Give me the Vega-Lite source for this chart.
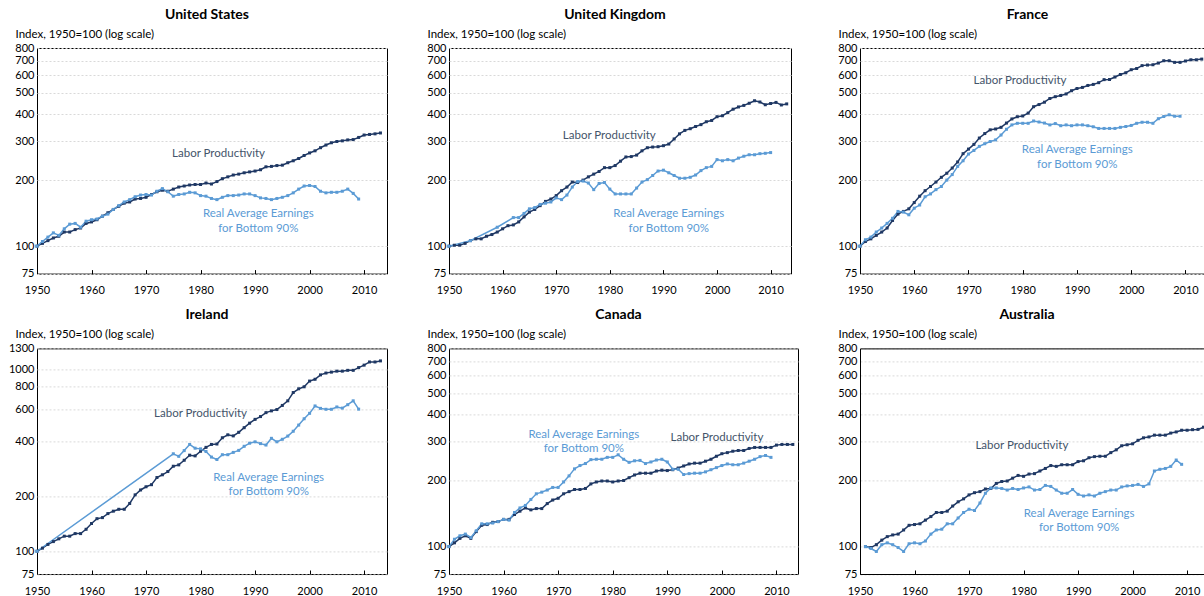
{
"$schema": "https://vega.github.io/schema/vega-lite/v6.json",
"autosize": {"type": "pad"},
"padding": {"left": 7, "top": 7, "right": 0, "bottom": 0},
"background": "white",
"config": {
  "font": "Lato",
  "view": {"stroke": "#000000", "strokeWidth": 1},
  "title": {"fontSize": 14, "fontWeight": "bold", "color": "#000000", "frame": "group", "anchor": "middle", "offset": 6, "dx": -5},
  "axis": {"labelFont": "Lato", "labelFontSize": 11, "labelColor": "#000000", "titleFont": "Lato", "titleFontSize": 11.5, "titleFontWeight": "normal", "titleColor": "#000000", "tickColor": "#000000", "domainColor": "#000000"},
  "axisY": {"ticks": false, "domain": false, "grid": true, "gridColor": "#D9D9D9", "gridDash": [2, 2], "labelPadding": 3, "labelOverlap": false, "format": "d", "titleAngle": 0, "titleAlign": "left", "titleBaseline": "middle", "titleX": -22, "titleY": -14},
  "axisX": {"grid": false, "domain": false, "tickSize": -4, "labelPadding": 15, "labelFlush": false, "labelOverlap": false, "format": "d"}
},
"datasets": {
"notes": [
{"c":"US","s":"LP","y":1983.3,"v":262,"t":"Labor Productivity"},
{"c":"US","s":"RE","y":1990.6,"v":139.5,"t":"Real Average Earnings\nfor Bottom 90%"},
{"c":"UK","s":"LP","y":1979.9,"v":318,"t":"Labor Productivity"},
{"c":"UK","s":"RE","y":1991.0,"v":140,"t":"Real Average Earnings\nfor Bottom 90%"},
{"c":"FR","s":"LP","y":1979.5,"v":564,"t":"Labor Productivity"},
{"c":"FR","s":"RE","y":1990.05,"v":273,"t":"Real Average Earnings\nfor Bottom 90%"},
{"c":"IE","s":"LP","y":1980.0,"v":565,"t":"Labor Productivity"},
{"c":"IE","s":"RE","y":1992.5,"v":254,"t":"Real Average Earnings\nfor Bottom 90%"},
{"c":"CA","s":"LP","y":1999.1,"v":314,"t":"Labor Productivity"},
{"c":"CA","s":"RE","y":1974.7,"v":323,"t":"Real Average Earnings\nfor Bottom 90%"},
{"c":"AU","s":"LP","y":1979.7,"v":286,"t":"Labor Productivity"},
{"c":"AU","s":"RE","y":1990.2,"v":141.4,"t":"Real Average Earnings\nfor Bottom 90%"}
],
"pts": [
{"c":"US","s":"LP","y":1950,"v":100},{"c":"US","s":"LP","y":1951,"v":103},{"c":"US","s":"LP","y":1952,"v":106},{"c":"US","s":"LP","y":1953,"v":109},{"c":"US","s":"LP","y":1954,"v":111},{"c":"US","s":"LP","y":1955,"v":116},{"c":"US","s":"LP","y":1956,"v":116},{"c":"US","s":"LP","y":1957,"v":119},{"c":"US","s":"LP","y":1958,"v":121},{"c":"US","s":"LP","y":1959,"v":127},
{"c":"US","s":"LP","y":1960,"v":129},{"c":"US","s":"LP","y":1961,"v":132},{"c":"US","s":"LP","y":1962,"v":137},{"c":"US","s":"LP","y":1963,"v":142},{"c":"US","s":"LP","y":1964,"v":147},{"c":"US","s":"LP","y":1965,"v":152},{"c":"US","s":"LP","y":1966,"v":157},{"c":"US","s":"LP","y":1967,"v":159},{"c":"US","s":"LP","y":1968,"v":164},{"c":"US","s":"LP","y":1969,"v":165},
{"c":"US","s":"LP","y":1970,"v":167},{"c":"US","s":"LP","y":1971,"v":172},{"c":"US","s":"LP","y":1972,"v":177},{"c":"US","s":"LP","y":1973,"v":180},{"c":"US","s":"LP","y":1974,"v":178},{"c":"US","s":"LP","y":1975,"v":182},{"c":"US","s":"LP","y":1976,"v":186},{"c":"US","s":"LP","y":1977,"v":188},{"c":"US","s":"LP","y":1978,"v":190},{"c":"US","s":"LP","y":1979,"v":191},
{"c":"US","s":"LP","y":1980,"v":191},{"c":"US","s":"LP","y":1981,"v":194},{"c":"US","s":"LP","y":1982,"v":192},{"c":"US","s":"LP","y":1983,"v":197},{"c":"US","s":"LP","y":1984,"v":203},{"c":"US","s":"LP","y":1985,"v":207},{"c":"US","s":"LP","y":1986,"v":211},{"c":"US","s":"LP","y":1987,"v":213},{"c":"US","s":"LP","y":1988,"v":216},{"c":"US","s":"LP","y":1989,"v":218},
{"c":"US","s":"LP","y":1990,"v":220},{"c":"US","s":"LP","y":1991,"v":223},{"c":"US","s":"LP","y":1992,"v":230},{"c":"US","s":"LP","y":1993,"v":231},{"c":"US","s":"LP","y":1994,"v":233},{"c":"US","s":"LP","y":1995,"v":234},{"c":"US","s":"LP","y":1996,"v":240},{"c":"US","s":"LP","y":1997,"v":245},{"c":"US","s":"LP","y":1998,"v":251},{"c":"US","s":"LP","y":1999,"v":259},
{"c":"US","s":"LP","y":2000,"v":266},{"c":"US","s":"LP","y":2001,"v":272},{"c":"US","s":"LP","y":2002,"v":281},{"c":"US","s":"LP","y":2003,"v":289},{"c":"US","s":"LP","y":2004,"v":296},{"c":"US","s":"LP","y":2005,"v":300},{"c":"US","s":"LP","y":2006,"v":302},{"c":"US","s":"LP","y":2007,"v":305},{"c":"US","s":"LP","y":2008,"v":306},{"c":"US","s":"LP","y":2009,"v":313},
{"c":"US","s":"LP","y":2010,"v":321},{"c":"US","s":"LP","y":2011,"v":323},{"c":"US","s":"LP","y":2012,"v":325},{"c":"US","s":"LP","y":2013,"v":328},
{"c":"US","s":"RE","y":1950,"v":100},{"c":"US","s":"RE","y":1951,"v":105},{"c":"US","s":"RE","y":1952,"v":110},{"c":"US","s":"RE","y":1953,"v":115},{"c":"US","s":"RE","y":1954,"v":112},{"c":"US","s":"RE","y":1955,"v":120},{"c":"US","s":"RE","y":1956,"v":126},{"c":"US","s":"RE","y":1957,"v":127},{"c":"US","s":"RE","y":1958,"v":122},{"c":"US","s":"RE","y":1959,"v":130},
{"c":"US","s":"RE","y":1960,"v":132},{"c":"US","s":"RE","y":1961,"v":133},{"c":"US","s":"RE","y":1962,"v":137},{"c":"US","s":"RE","y":1963,"v":140},{"c":"US","s":"RE","y":1964,"v":147},{"c":"US","s":"RE","y":1965,"v":153},{"c":"US","s":"RE","y":1966,"v":159},{"c":"US","s":"RE","y":1967,"v":163},{"c":"US","s":"RE","y":1968,"v":168},{"c":"US","s":"RE","y":1969,"v":171},
{"c":"US","s":"RE","y":1970,"v":172},{"c":"US","s":"RE","y":1971,"v":171},{"c":"US","s":"RE","y":1972,"v":178},{"c":"US","s":"RE","y":1973,"v":183},{"c":"US","s":"RE","y":1974,"v":177},{"c":"US","s":"RE","y":1975,"v":169},{"c":"US","s":"RE","y":1976,"v":172},{"c":"US","s":"RE","y":1977,"v":173},{"c":"US","s":"RE","y":1978,"v":176},{"c":"US","s":"RE","y":1979,"v":175},
{"c":"US","s":"RE","y":1980,"v":170},{"c":"US","s":"RE","y":1981,"v":169},{"c":"US","s":"RE","y":1982,"v":165},{"c":"US","s":"RE","y":1983,"v":163},{"c":"US","s":"RE","y":1984,"v":167},{"c":"US","s":"RE","y":1985,"v":170},{"c":"US","s":"RE","y":1986,"v":170},{"c":"US","s":"RE","y":1987,"v":171},{"c":"US","s":"RE","y":1988,"v":173},{"c":"US","s":"RE","y":1989,"v":173},
{"c":"US","s":"RE","y":1990,"v":170},{"c":"US","s":"RE","y":1991,"v":166},{"c":"US","s":"RE","y":1992,"v":165},{"c":"US","s":"RE","y":1993,"v":163},{"c":"US","s":"RE","y":1994,"v":165},{"c":"US","s":"RE","y":1995,"v":167},{"c":"US","s":"RE","y":1996,"v":170},{"c":"US","s":"RE","y":1997,"v":175},{"c":"US","s":"RE","y":1998,"v":182},{"c":"US","s":"RE","y":1999,"v":188},
{"c":"US","s":"RE","y":2000,"v":189},{"c":"US","s":"RE","y":2001,"v":187},{"c":"US","s":"RE","y":2002,"v":178},{"c":"US","s":"RE","y":2003,"v":175},{"c":"US","s":"RE","y":2004,"v":176},{"c":"US","s":"RE","y":2005,"v":176},{"c":"US","s":"RE","y":2006,"v":178},{"c":"US","s":"RE","y":2007,"v":182},{"c":"US","s":"RE","y":2008,"v":174},{"c":"US","s":"RE","y":2009,"v":164},
{"c":"UK","s":"LP","y":1950,"v":100},{"c":"UK","s":"LP","y":1951,"v":101},{"c":"UK","s":"LP","y":1952,"v":101},{"c":"UK","s":"LP","y":1953,"v":103},{"c":"UK","s":"LP","y":1954,"v":106},{"c":"UK","s":"LP","y":1955,"v":108},{"c":"UK","s":"LP","y":1956,"v":108},{"c":"UK","s":"LP","y":1957,"v":111},{"c":"UK","s":"LP","y":1958,"v":113},{"c":"UK","s":"LP","y":1959,"v":116},
{"c":"UK","s":"LP","y":1960,"v":120},{"c":"UK","s":"LP","y":1961,"v":124},{"c":"UK","s":"LP","y":1962,"v":125},{"c":"UK","s":"LP","y":1963,"v":129},{"c":"UK","s":"LP","y":1964,"v":136},{"c":"UK","s":"LP","y":1965,"v":143},{"c":"UK","s":"LP","y":1966,"v":147},{"c":"UK","s":"LP","y":1967,"v":153},{"c":"UK","s":"LP","y":1968,"v":160},{"c":"UK","s":"LP","y":1969,"v":164},
{"c":"UK","s":"LP","y":1970,"v":170},{"c":"UK","s":"LP","y":1971,"v":179},{"c":"UK","s":"LP","y":1972,"v":186},{"c":"UK","s":"LP","y":1973,"v":196},{"c":"UK","s":"LP","y":1974,"v":195},{"c":"UK","s":"LP","y":1975,"v":200},{"c":"UK","s":"LP","y":1976,"v":207},{"c":"UK","s":"LP","y":1977,"v":213},{"c":"UK","s":"LP","y":1978,"v":219},{"c":"UK","s":"LP","y":1979,"v":228},
{"c":"UK","s":"LP","y":1980,"v":228},{"c":"UK","s":"LP","y":1981,"v":233},{"c":"UK","s":"LP","y":1982,"v":244},{"c":"UK","s":"LP","y":1983,"v":255},{"c":"UK","s":"LP","y":1984,"v":256},{"c":"UK","s":"LP","y":1985,"v":260},{"c":"UK","s":"LP","y":1986,"v":272},{"c":"UK","s":"LP","y":1987,"v":281},{"c":"UK","s":"LP","y":1988,"v":283},{"c":"UK","s":"LP","y":1989,"v":284},
{"c":"UK","s":"LP","y":1990,"v":287},{"c":"UK","s":"LP","y":1991,"v":292},{"c":"UK","s":"LP","y":1992,"v":308},{"c":"UK","s":"LP","y":1993,"v":325},{"c":"UK","s":"LP","y":1994,"v":337},{"c":"UK","s":"LP","y":1995,"v":343},{"c":"UK","s":"LP","y":1996,"v":351},{"c":"UK","s":"LP","y":1997,"v":358},{"c":"UK","s":"LP","y":1998,"v":369},{"c":"UK","s":"LP","y":1999,"v":374},
{"c":"UK","s":"LP","y":2000,"v":389},{"c":"UK","s":"LP","y":2001,"v":393},{"c":"UK","s":"LP","y":2002,"v":406},{"c":"UK","s":"LP","y":2003,"v":421},{"c":"UK","s":"LP","y":2004,"v":431},{"c":"UK","s":"LP","y":2005,"v":438},{"c":"UK","s":"LP","y":2006,"v":448},{"c":"UK","s":"LP","y":2007,"v":460},{"c":"UK","s":"LP","y":2008,"v":454},{"c":"UK","s":"LP","y":2009,"v":441},
{"c":"UK","s":"LP","y":2010,"v":447},{"c":"UK","s":"LP","y":2011,"v":452},{"c":"UK","s":"LP","y":2012,"v":440},{"c":"UK","s":"LP","y":2013,"v":445},
{"c":"UK","s":"RE","y":1950,"v":100},{"c":"UK","s":"RE","y":1954,"v":106},{"c":"UK","s":"RE","y":1959,"v":122},{"c":"UK","s":"RE","y":1962,"v":135},{"c":"UK","s":"RE","y":1963,"v":135},{"c":"UK","s":"RE","y":1964,"v":141},{"c":"UK","s":"RE","y":1965,"v":148},{"c":"UK","s":"RE","y":1966,"v":150},{"c":"UK","s":"RE","y":1967,"v":155},{"c":"UK","s":"RE","y":1968,"v":157},{"c":"UK","s":"RE","y":1969,"v":159},
{"c":"UK","s":"RE","y":1970,"v":166},{"c":"UK","s":"RE","y":1971,"v":163},{"c":"UK","s":"RE","y":1972,"v":171},{"c":"UK","s":"RE","y":1973,"v":186},{"c":"UK","s":"RE","y":1974,"v":197},{"c":"UK","s":"RE","y":1975,"v":198},{"c":"UK","s":"RE","y":1976,"v":194},{"c":"UK","s":"RE","y":1977,"v":181},{"c":"UK","s":"RE","y":1978,"v":193},{"c":"UK","s":"RE","y":1979,"v":195},
{"c":"UK","s":"RE","y":1980,"v":182},{"c":"UK","s":"RE","y":1981,"v":173},{"c":"UK","s":"RE","y":1982,"v":173},{"c":"UK","s":"RE","y":1983,"v":173},{"c":"UK","s":"RE","y":1984,"v":173},{"c":"UK","s":"RE","y":1985,"v":184},{"c":"UK","s":"RE","y":1986,"v":196},{"c":"UK","s":"RE","y":1987,"v":201},{"c":"UK","s":"RE","y":1988,"v":210},{"c":"UK","s":"RE","y":1989,"v":220},
{"c":"UK","s":"RE","y":1990,"v":222},{"c":"UK","s":"RE","y":1991,"v":216},{"c":"UK","s":"RE","y":1992,"v":210},{"c":"UK","s":"RE","y":1993,"v":204},{"c":"UK","s":"RE","y":1994,"v":204},{"c":"UK","s":"RE","y":1995,"v":206},{"c":"UK","s":"RE","y":1996,"v":211},{"c":"UK","s":"RE","y":1997,"v":221},{"c":"UK","s":"RE","y":1998,"v":228},{"c":"UK","s":"RE","y":1999,"v":231},
{"c":"UK","s":"RE","y":2000,"v":248},{"c":"UK","s":"RE","y":2001,"v":245},{"c":"UK","s":"RE","y":2002,"v":248},{"c":"UK","s":"RE","y":2003,"v":245},{"c":"UK","s":"RE","y":2004,"v":252},{"c":"UK","s":"RE","y":2005,"v":257},{"c":"UK","s":"RE","y":2006,"v":261},{"c":"UK","s":"RE","y":2007,"v":261},{"c":"UK","s":"RE","y":2008,"v":264},{"c":"UK","s":"RE","y":2009,"v":265},{"c":"UK","s":"RE","y":2010,"v":267},
{"c":"FR","s":"LP","y":1950,"v":100},{"c":"FR","s":"LP","y":1951,"v":105},{"c":"FR","s":"LP","y":1952,"v":108},{"c":"FR","s":"LP","y":1953,"v":112},{"c":"FR","s":"LP","y":1954,"v":116},{"c":"FR","s":"LP","y":1955,"v":121},{"c":"FR","s":"LP","y":1956,"v":131},{"c":"FR","s":"LP","y":1957,"v":140},{"c":"FR","s":"LP","y":1958,"v":144},{"c":"FR","s":"LP","y":1959,"v":148},
{"c":"FR","s":"LP","y":1960,"v":158},{"c":"FR","s":"LP","y":1961,"v":169},{"c":"FR","s":"LP","y":1962,"v":179},{"c":"FR","s":"LP","y":1963,"v":187},{"c":"FR","s":"LP","y":1964,"v":196},{"c":"FR","s":"LP","y":1965,"v":206},{"c":"FR","s":"LP","y":1966,"v":215},{"c":"FR","s":"LP","y":1967,"v":227},{"c":"FR","s":"LP","y":1968,"v":242},{"c":"FR","s":"LP","y":1969,"v":264},
{"c":"FR","s":"LP","y":1970,"v":277},{"c":"FR","s":"LP","y":1971,"v":291},{"c":"FR","s":"LP","y":1972,"v":311},{"c":"FR","s":"LP","y":1973,"v":326},{"c":"FR","s":"LP","y":1974,"v":339},{"c":"FR","s":"LP","y":1975,"v":342},{"c":"FR","s":"LP","y":1976,"v":348},{"c":"FR","s":"LP","y":1977,"v":364},{"c":"FR","s":"LP","y":1978,"v":380},{"c":"FR","s":"LP","y":1979,"v":389},
{"c":"FR","s":"LP","y":1980,"v":392},{"c":"FR","s":"LP","y":1981,"v":404},{"c":"FR","s":"LP","y":1982,"v":432},{"c":"FR","s":"LP","y":1983,"v":442},{"c":"FR","s":"LP","y":1984,"v":453},{"c":"FR","s":"LP","y":1985,"v":471},{"c":"FR","s":"LP","y":1986,"v":480},{"c":"FR","s":"LP","y":1987,"v":486},{"c":"FR","s":"LP","y":1988,"v":494},{"c":"FR","s":"LP","y":1989,"v":511},
{"c":"FR","s":"LP","y":1990,"v":523},{"c":"FR","s":"LP","y":1991,"v":529},{"c":"FR","s":"LP","y":1992,"v":540},{"c":"FR","s":"LP","y":1993,"v":546},{"c":"FR","s":"LP","y":1994,"v":556},{"c":"FR","s":"LP","y":1995,"v":574},{"c":"FR","s":"LP","y":1996,"v":575},{"c":"FR","s":"LP","y":1997,"v":590},{"c":"FR","s":"LP","y":1998,"v":606},{"c":"FR","s":"LP","y":1999,"v":617},
{"c":"FR","s":"LP","y":2000,"v":637},{"c":"FR","s":"LP","y":2001,"v":645},{"c":"FR","s":"LP","y":2002,"v":665},{"c":"FR","s":"LP","y":2003,"v":669},{"c":"FR","s":"LP","y":2004,"v":671},{"c":"FR","s":"LP","y":2005,"v":683},{"c":"FR","s":"LP","y":2006,"v":700},{"c":"FR","s":"LP","y":2007,"v":700},{"c":"FR","s":"LP","y":2008,"v":688},{"c":"FR","s":"LP","y":2009,"v":688},
{"c":"FR","s":"LP","y":2010,"v":698},{"c":"FR","s":"LP","y":2011,"v":707},{"c":"FR","s":"LP","y":2012,"v":707},{"c":"FR","s":"LP","y":2013,"v":712},
{"c":"FR","s":"RE","y":1950,"v":100},{"c":"FR","s":"RE","y":1951,"v":107},{"c":"FR","s":"RE","y":1952,"v":110},{"c":"FR","s":"RE","y":1953,"v":116},{"c":"FR","s":"RE","y":1954,"v":121},{"c":"FR","s":"RE","y":1955,"v":127},{"c":"FR","s":"RE","y":1956,"v":134},{"c":"FR","s":"RE","y":1957,"v":144},{"c":"FR","s":"RE","y":1958,"v":143},{"c":"FR","s":"RE","y":1959,"v":139},
{"c":"FR","s":"RE","y":1960,"v":149},{"c":"FR","s":"RE","y":1961,"v":154},{"c":"FR","s":"RE","y":1962,"v":168},{"c":"FR","s":"RE","y":1963,"v":173},{"c":"FR","s":"RE","y":1964,"v":181},{"c":"FR","s":"RE","y":1965,"v":187},{"c":"FR","s":"RE","y":1966,"v":200},{"c":"FR","s":"RE","y":1967,"v":212},{"c":"FR","s":"RE","y":1968,"v":231},{"c":"FR","s":"RE","y":1969,"v":245},
{"c":"FR","s":"RE","y":1970,"v":263},{"c":"FR","s":"RE","y":1971,"v":273},{"c":"FR","s":"RE","y":1972,"v":285},{"c":"FR","s":"RE","y":1973,"v":293},{"c":"FR","s":"RE","y":1974,"v":300},{"c":"FR","s":"RE","y":1975,"v":305},{"c":"FR","s":"RE","y":1976,"v":321},{"c":"FR","s":"RE","y":1977,"v":341},{"c":"FR","s":"RE","y":1978,"v":357},{"c":"FR","s":"RE","y":1979,"v":363},
{"c":"FR","s":"RE","y":1980,"v":363},{"c":"FR","s":"RE","y":1981,"v":363},{"c":"FR","s":"RE","y":1982,"v":372},{"c":"FR","s":"RE","y":1983,"v":368},{"c":"FR","s":"RE","y":1984,"v":364},{"c":"FR","s":"RE","y":1985,"v":357},{"c":"FR","s":"RE","y":1986,"v":362},{"c":"FR","s":"RE","y":1987,"v":354},{"c":"FR","s":"RE","y":1988,"v":357},{"c":"FR","s":"RE","y":1989,"v":354},
{"c":"FR","s":"RE","y":1990,"v":357},{"c":"FR","s":"RE","y":1991,"v":357},{"c":"FR","s":"RE","y":1992,"v":354},{"c":"FR","s":"RE","y":1993,"v":350},{"c":"FR","s":"RE","y":1994,"v":344},{"c":"FR","s":"RE","y":1995,"v":344},{"c":"FR","s":"RE","y":1996,"v":344},{"c":"FR","s":"RE","y":1997,"v":344},{"c":"FR","s":"RE","y":1998,"v":348},{"c":"FR","s":"RE","y":1999,"v":351},
{"c":"FR","s":"RE","y":2000,"v":355},{"c":"FR","s":"RE","y":2001,"v":363},{"c":"FR","s":"RE","y":2002,"v":367},{"c":"FR","s":"RE","y":2003,"v":367},{"c":"FR","s":"RE","y":2004,"v":363},{"c":"FR","s":"RE","y":2005,"v":381},{"c":"FR","s":"RE","y":2006,"v":390},{"c":"FR","s":"RE","y":2007,"v":397},{"c":"FR","s":"RE","y":2008,"v":391},{"c":"FR","s":"RE","y":2009,"v":391},
{"c":"IE","s":"LP","y":1950,"v":100},{"c":"IE","s":"LP","y":1951,"v":104},{"c":"IE","s":"LP","y":1952,"v":109},{"c":"IE","s":"LP","y":1953,"v":113},{"c":"IE","s":"LP","y":1954,"v":117},{"c":"IE","s":"LP","y":1955,"v":121},{"c":"IE","s":"LP","y":1956,"v":121},{"c":"IE","s":"LP","y":1957,"v":125},{"c":"IE","s":"LP","y":1958,"v":125},{"c":"IE","s":"LP","y":1959,"v":132},
{"c":"IE","s":"LP","y":1960,"v":142},{"c":"IE","s":"LP","y":1961,"v":151},{"c":"IE","s":"LP","y":1962,"v":153},{"c":"IE","s":"LP","y":1963,"v":161},{"c":"IE","s":"LP","y":1964,"v":166},{"c":"IE","s":"LP","y":1965,"v":170},{"c":"IE","s":"LP","y":1966,"v":170},{"c":"IE","s":"LP","y":1967,"v":183},{"c":"IE","s":"LP","y":1968,"v":204},{"c":"IE","s":"LP","y":1969,"v":217},
{"c":"IE","s":"LP","y":1970,"v":226},{"c":"IE","s":"LP","y":1971,"v":232},{"c":"IE","s":"LP","y":1972,"v":254},{"c":"IE","s":"LP","y":1973,"v":263},{"c":"IE","s":"LP","y":1974,"v":274},{"c":"IE","s":"LP","y":1975,"v":293},{"c":"IE","s":"LP","y":1976,"v":298},{"c":"IE","s":"LP","y":1977,"v":316},{"c":"IE","s":"LP","y":1978,"v":337},{"c":"IE","s":"LP","y":1979,"v":334},
{"c":"IE","s":"LP","y":1980,"v":354},{"c":"IE","s":"LP","y":1981,"v":372},{"c":"IE","s":"LP","y":1982,"v":386},{"c":"IE","s":"LP","y":1983,"v":388},{"c":"IE","s":"LP","y":1984,"v":420},{"c":"IE","s":"LP","y":1985,"v":436},{"c":"IE","s":"LP","y":1986,"v":430},{"c":"IE","s":"LP","y":1987,"v":450},{"c":"IE","s":"LP","y":1988,"v":477},{"c":"IE","s":"LP","y":1989,"v":505},
{"c":"IE","s":"LP","y":1990,"v":530},{"c":"IE","s":"LP","y":1991,"v":549},{"c":"IE","s":"LP","y":1992,"v":577},{"c":"IE","s":"LP","y":1993,"v":590},{"c":"IE","s":"LP","y":1994,"v":600},{"c":"IE","s":"LP","y":1995,"v":632},{"c":"IE","s":"LP","y":1996,"v":670},{"c":"IE","s":"LP","y":1997,"v":744},{"c":"IE","s":"LP","y":1998,"v":780},{"c":"IE","s":"LP","y":1999,"v":800},
{"c":"IE","s":"LP","y":2000,"v":860},{"c":"IE","s":"LP","y":2001,"v":880},{"c":"IE","s":"LP","y":2002,"v":930},{"c":"IE","s":"LP","y":2003,"v":952},{"c":"IE","s":"LP","y":2004,"v":963},{"c":"IE","s":"LP","y":2005,"v":975},{"c":"IE","s":"LP","y":2006,"v":975},{"c":"IE","s":"LP","y":2007,"v":985},{"c":"IE","s":"LP","y":2008,"v":985},{"c":"IE","s":"LP","y":2009,"v":1020},
{"c":"IE","s":"LP","y":2010,"v":1052},{"c":"IE","s":"LP","y":2011,"v":1095},{"c":"IE","s":"LP","y":2012,"v":1095},{"c":"IE","s":"LP","y":2013,"v":1110},
{"c":"IE","s":"RE","y":1950,"v":100},{"c":"IE","s":"RE","y":1975,"v":343},{"c":"IE","s":"RE","y":1976,"v":332},{"c":"IE","s":"RE","y":1977,"v":357},{"c":"IE","s":"RE","y":1978,"v":386},{"c":"IE","s":"RE","y":1979,"v":368},
{"c":"IE","s":"RE","y":1980,"v":365},{"c":"IE","s":"RE","y":1981,"v":353},{"c":"IE","s":"RE","y":1982,"v":329},{"c":"IE","s":"RE","y":1983,"v":319},{"c":"IE","s":"RE","y":1984,"v":339},{"c":"IE","s":"RE","y":1985,"v":339},{"c":"IE","s":"RE","y":1986,"v":349},{"c":"IE","s":"RE","y":1987,"v":358},{"c":"IE","s":"RE","y":1988,"v":377},{"c":"IE","s":"RE","y":1989,"v":392},
{"c":"IE","s":"RE","y":1990,"v":399},{"c":"IE","s":"RE","y":1991,"v":390},{"c":"IE","s":"RE","y":1992,"v":383},{"c":"IE","s":"RE","y":1993,"v":417},{"c":"IE","s":"RE","y":1994,"v":399},{"c":"IE","s":"RE","y":1995,"v":412},{"c":"IE","s":"RE","y":1996,"v":429},{"c":"IE","s":"RE","y":1997,"v":456},{"c":"IE","s":"RE","y":1998,"v":493},{"c":"IE","s":"RE","y":1999,"v":534},
{"c":"IE","s":"RE","y":2000,"v":572},{"c":"IE","s":"RE","y":2001,"v":628},{"c":"IE","s":"RE","y":2002,"v":609},{"c":"IE","s":"RE","y":2003,"v":602},{"c":"IE","s":"RE","y":2004,"v":602},{"c":"IE","s":"RE","y":2005,"v":620},{"c":"IE","s":"RE","y":2006,"v":611},{"c":"IE","s":"RE","y":2007,"v":638},{"c":"IE","s":"RE","y":2008,"v":670},{"c":"IE","s":"RE","y":2009,"v":603},
{"c":"CA","s":"LP","y":1950,"v":100},{"c":"CA","s":"LP","y":1951,"v":104},{"c":"CA","s":"LP","y":1952,"v":109},{"c":"CA","s":"LP","y":1953,"v":112},{"c":"CA","s":"LP","y":1954,"v":109},{"c":"CA","s":"LP","y":1955,"v":117},{"c":"CA","s":"LP","y":1956,"v":125},{"c":"CA","s":"LP","y":1957,"v":126},{"c":"CA","s":"LP","y":1958,"v":129},{"c":"CA","s":"LP","y":1959,"v":130},
{"c":"CA","s":"LP","y":1960,"v":133},{"c":"CA","s":"LP","y":1961,"v":133},{"c":"CA","s":"LP","y":1962,"v":140},{"c":"CA","s":"LP","y":1963,"v":145},{"c":"CA","s":"LP","y":1964,"v":150},{"c":"CA","s":"LP","y":1965,"v":147},{"c":"CA","s":"LP","y":1966,"v":149},{"c":"CA","s":"LP","y":1967,"v":149},{"c":"CA","s":"LP","y":1968,"v":157},{"c":"CA","s":"LP","y":1969,"v":163},
{"c":"CA","s":"LP","y":1970,"v":166},{"c":"CA","s":"LP","y":1971,"v":174},{"c":"CA","s":"LP","y":1972,"v":178},{"c":"CA","s":"LP","y":1973,"v":182},{"c":"CA","s":"LP","y":1974,"v":182},{"c":"CA","s":"LP","y":1975,"v":184},{"c":"CA","s":"LP","y":1976,"v":193},{"c":"CA","s":"LP","y":1977,"v":197},{"c":"CA","s":"LP","y":1978,"v":199},{"c":"CA","s":"LP","y":1979,"v":199},
{"c":"CA","s":"LP","y":1980,"v":197},{"c":"CA","s":"LP","y":1981,"v":199},{"c":"CA","s":"LP","y":1982,"v":200},{"c":"CA","s":"LP","y":1983,"v":206},{"c":"CA","s":"LP","y":1984,"v":212},{"c":"CA","s":"LP","y":1985,"v":216},{"c":"CA","s":"LP","y":1986,"v":216},{"c":"CA","s":"LP","y":1987,"v":216},{"c":"CA","s":"LP","y":1988,"v":221},{"c":"CA","s":"LP","y":1989,"v":223},
{"c":"CA","s":"LP","y":1990,"v":222},{"c":"CA","s":"LP","y":1991,"v":224},{"c":"CA","s":"LP","y":1992,"v":228},{"c":"CA","s":"LP","y":1993,"v":233},{"c":"CA","s":"LP","y":1994,"v":238},{"c":"CA","s":"LP","y":1995,"v":240},{"c":"CA","s":"LP","y":1996,"v":240},{"c":"CA","s":"LP","y":1997,"v":245},{"c":"CA","s":"LP","y":1998,"v":250},{"c":"CA","s":"LP","y":1999,"v":258},
{"c":"CA","s":"LP","y":2000,"v":265},{"c":"CA","s":"LP","y":2001,"v":268},{"c":"CA","s":"LP","y":2002,"v":272},{"c":"CA","s":"LP","y":2003,"v":274},{"c":"CA","s":"LP","y":2004,"v":274},{"c":"CA","s":"LP","y":2005,"v":280},{"c":"CA","s":"LP","y":2006,"v":283},{"c":"CA","s":"LP","y":2007,"v":283},{"c":"CA","s":"LP","y":2008,"v":283},{"c":"CA","s":"LP","y":2009,"v":283},
{"c":"CA","s":"LP","y":2010,"v":290},{"c":"CA","s":"LP","y":2011,"v":292},{"c":"CA","s":"LP","y":2012,"v":292},{"c":"CA","s":"LP","y":2013,"v":292},
{"c":"CA","s":"RE","y":1950,"v":100},{"c":"CA","s":"RE","y":1951,"v":108},{"c":"CA","s":"RE","y":1952,"v":112},{"c":"CA","s":"RE","y":1953,"v":114},{"c":"CA","s":"RE","y":1954,"v":110},{"c":"CA","s":"RE","y":1955,"v":118},{"c":"CA","s":"RE","y":1956,"v":127},{"c":"CA","s":"RE","y":1957,"v":127},{"c":"CA","s":"RE","y":1958,"v":128},{"c":"CA","s":"RE","y":1959,"v":130},
{"c":"CA","s":"RE","y":1960,"v":133},{"c":"CA","s":"RE","y":1961,"v":132},{"c":"CA","s":"RE","y":1962,"v":143},{"c":"CA","s":"RE","y":1963,"v":150},{"c":"CA","s":"RE","y":1964,"v":154},{"c":"CA","s":"RE","y":1965,"v":164},{"c":"CA","s":"RE","y":1966,"v":174},{"c":"CA","s":"RE","y":1967,"v":177},{"c":"CA","s":"RE","y":1968,"v":181},{"c":"CA","s":"RE","y":1969,"v":186},
{"c":"CA","s":"RE","y":1970,"v":186},{"c":"CA","s":"RE","y":1971,"v":197},{"c":"CA","s":"RE","y":1972,"v":210},{"c":"CA","s":"RE","y":1973,"v":226},{"c":"CA","s":"RE","y":1974,"v":234},{"c":"CA","s":"RE","y":1975,"v":239},{"c":"CA","s":"RE","y":1976,"v":249},{"c":"CA","s":"RE","y":1977,"v":250},{"c":"CA","s":"RE","y":1978,"v":250},{"c":"CA","s":"RE","y":1979,"v":255},
{"c":"CA","s":"RE","y":1980,"v":255},{"c":"CA","s":"RE","y":1981,"v":262},{"c":"CA","s":"RE","y":1982,"v":250},{"c":"CA","s":"RE","y":1983,"v":242},{"c":"CA","s":"RE","y":1984,"v":246},{"c":"CA","s":"RE","y":1985,"v":247},{"c":"CA","s":"RE","y":1986,"v":239},{"c":"CA","s":"RE","y":1987,"v":243},{"c":"CA","s":"RE","y":1988,"v":248},{"c":"CA","s":"RE","y":1989,"v":250},
{"c":"CA","s":"RE","y":1990,"v":243},{"c":"CA","s":"RE","y":1991,"v":225},{"c":"CA","s":"RE","y":1992,"v":225},{"c":"CA","s":"RE","y":1993,"v":213},{"c":"CA","s":"RE","y":1994,"v":215},{"c":"CA","s":"RE","y":1995,"v":216},{"c":"CA","s":"RE","y":1996,"v":216},{"c":"CA","s":"RE","y":1997,"v":219},{"c":"CA","s":"RE","y":1998,"v":224},{"c":"CA","s":"RE","y":1999,"v":229},
{"c":"CA","s":"RE","y":2000,"v":234},{"c":"CA","s":"RE","y":2001,"v":238},{"c":"CA","s":"RE","y":2002,"v":236},{"c":"CA","s":"RE","y":2003,"v":236},{"c":"CA","s":"RE","y":2004,"v":240},{"c":"CA","s":"RE","y":2005,"v":245},{"c":"CA","s":"RE","y":2006,"v":250},{"c":"CA","s":"RE","y":2007,"v":257},{"c":"CA","s":"RE","y":2008,"v":260},{"c":"CA","s":"RE","y":2009,"v":255},
{"c":"AU","s":"LP","y":1951,"v":100},{"c":"AU","s":"LP","y":1952,"v":99},{"c":"AU","s":"LP","y":1953,"v":102},{"c":"AU","s":"LP","y":1954,"v":107},{"c":"AU","s":"LP","y":1955,"v":111},{"c":"AU","s":"LP","y":1956,"v":113},{"c":"AU","s":"LP","y":1957,"v":114},{"c":"AU","s":"LP","y":1958,"v":119},{"c":"AU","s":"LP","y":1959,"v":125},
{"c":"AU","s":"LP","y":1960,"v":126},{"c":"AU","s":"LP","y":1961,"v":127},{"c":"AU","s":"LP","y":1962,"v":132},{"c":"AU","s":"LP","y":1963,"v":137},{"c":"AU","s":"LP","y":1964,"v":143},{"c":"AU","s":"LP","y":1965,"v":143},{"c":"AU","s":"LP","y":1966,"v":145},{"c":"AU","s":"LP","y":1967,"v":153},{"c":"AU","s":"LP","y":1968,"v":160},{"c":"AU","s":"LP","y":1969,"v":165},
{"c":"AU","s":"LP","y":1970,"v":172},{"c":"AU","s":"LP","y":1971,"v":176},{"c":"AU","s":"LP","y":1972,"v":178},{"c":"AU","s":"LP","y":1973,"v":183},{"c":"AU","s":"LP","y":1974,"v":184},{"c":"AU","s":"LP","y":1975,"v":194},{"c":"AU","s":"LP","y":1976,"v":198},{"c":"AU","s":"LP","y":1977,"v":199},{"c":"AU","s":"LP","y":1978,"v":205},{"c":"AU","s":"LP","y":1979,"v":211},
{"c":"AU","s":"LP","y":1980,"v":209},{"c":"AU","s":"LP","y":1981,"v":214},{"c":"AU","s":"LP","y":1982,"v":215},{"c":"AU","s":"LP","y":1983,"v":221},{"c":"AU","s":"LP","y":1984,"v":227},{"c":"AU","s":"LP","y":1985,"v":234},{"c":"AU","s":"LP","y":1986,"v":232},{"c":"AU","s":"LP","y":1987,"v":236},{"c":"AU","s":"LP","y":1988,"v":236},{"c":"AU","s":"LP","y":1989,"v":236},
{"c":"AU","s":"LP","y":1990,"v":244},{"c":"AU","s":"LP","y":1991,"v":246},{"c":"AU","s":"LP","y":1992,"v":254},{"c":"AU","s":"LP","y":1993,"v":257},{"c":"AU","s":"LP","y":1994,"v":258},{"c":"AU","s":"LP","y":1995,"v":258},{"c":"AU","s":"LP","y":1996,"v":268},{"c":"AU","s":"LP","y":1997,"v":276},{"c":"AU","s":"LP","y":1998,"v":288},{"c":"AU","s":"LP","y":1999,"v":291},
{"c":"AU","s":"LP","y":2000,"v":294},{"c":"AU","s":"LP","y":2001,"v":305},{"c":"AU","s":"LP","y":2002,"v":313},{"c":"AU","s":"LP","y":2003,"v":316},{"c":"AU","s":"LP","y":2004,"v":322},{"c":"AU","s":"LP","y":2005,"v":322},{"c":"AU","s":"LP","y":2006,"v":322},{"c":"AU","s":"LP","y":2007,"v":329},{"c":"AU","s":"LP","y":2008,"v":333},{"c":"AU","s":"LP","y":2009,"v":339},
{"c":"AU","s":"LP","y":2010,"v":339},{"c":"AU","s":"LP","y":2011,"v":341},{"c":"AU","s":"LP","y":2012,"v":342},{"c":"AU","s":"LP","y":2013,"v":350},
{"c":"AU","s":"RE","y":1951,"v":100},{"c":"AU","s":"RE","y":1952,"v":98},{"c":"AU","s":"RE","y":1953,"v":95},{"c":"AU","s":"RE","y":1954,"v":102},{"c":"AU","s":"RE","y":1955,"v":104},{"c":"AU","s":"RE","y":1956,"v":102},{"c":"AU","s":"RE","y":1957,"v":99},{"c":"AU","s":"RE","y":1958,"v":95},{"c":"AU","s":"RE","y":1959,"v":103},
{"c":"AU","s":"RE","y":1960,"v":104},{"c":"AU","s":"RE","y":1961,"v":103},{"c":"AU","s":"RE","y":1962,"v":106},{"c":"AU","s":"RE","y":1963,"v":114},{"c":"AU","s":"RE","y":1964,"v":119},{"c":"AU","s":"RE","y":1965,"v":120},{"c":"AU","s":"RE","y":1966,"v":127},{"c":"AU","s":"RE","y":1967,"v":127},{"c":"AU","s":"RE","y":1968,"v":135},{"c":"AU","s":"RE","y":1969,"v":143},
{"c":"AU","s":"RE","y":1970,"v":148},{"c":"AU","s":"RE","y":1971,"v":146},{"c":"AU","s":"RE","y":1972,"v":158},{"c":"AU","s":"RE","y":1973,"v":175},{"c":"AU","s":"RE","y":1974,"v":185},{"c":"AU","s":"RE","y":1975,"v":185},{"c":"AU","s":"RE","y":1976,"v":184},{"c":"AU","s":"RE","y":1977,"v":181},{"c":"AU","s":"RE","y":1978,"v":184},{"c":"AU","s":"RE","y":1979,"v":182},
{"c":"AU","s":"RE","y":1980,"v":185},{"c":"AU","s":"RE","y":1981,"v":187},{"c":"AU","s":"RE","y":1982,"v":181},{"c":"AU","s":"RE","y":1983,"v":182},{"c":"AU","s":"RE","y":1984,"v":190},{"c":"AU","s":"RE","y":1985,"v":188},{"c":"AU","s":"RE","y":1986,"v":181},{"c":"AU","s":"RE","y":1987,"v":175},{"c":"AU","s":"RE","y":1988,"v":175},{"c":"AU","s":"RE","y":1989,"v":182},
{"c":"AU","s":"RE","y":1990,"v":173},{"c":"AU","s":"RE","y":1991,"v":170},{"c":"AU","s":"RE","y":1992,"v":172},{"c":"AU","s":"RE","y":1993,"v":170},{"c":"AU","s":"RE","y":1994,"v":175},{"c":"AU","s":"RE","y":1995,"v":178},{"c":"AU","s":"RE","y":1996,"v":181},{"c":"AU","s":"RE","y":1997,"v":181},{"c":"AU","s":"RE","y":1998,"v":187},{"c":"AU","s":"RE","y":1999,"v":189},
{"c":"AU","s":"RE","y":2000,"v":190},{"c":"AU","s":"RE","y":2001,"v":192},{"c":"AU","s":"RE","y":2002,"v":188},{"c":"AU","s":"RE","y":2003,"v":193},{"c":"AU","s":"RE","y":2004,"v":221},{"c":"AU","s":"RE","y":2005,"v":225},{"c":"AU","s":"RE","y":2006,"v":227},{"c":"AU","s":"RE","y":2007,"v":232},{"c":"AU","s":"RE","y":2008,"v":248},{"c":"AU","s":"RE","y":2009,"v":237}
]
},
"columns": 3,
"bounds": "flush",
"align": {"row": "all", "column": "none"},
"spacing": {"row": 74.4, "column": 62},
"concat": [
 {"title": {"text": "United States"}, "width": 350, "height": 225.6, "layer": [
  {"data": {"name": "pts"}, "transform": [{"filter": "datum.c === 'US'"}], "mark": {"type": "line", "strokeWidth": 1.5, "point": {"shape": "square", "size": 9, "filled": true, "opacity": 1}},
   "encoding": {"x": {"field": "y", "type": "quantitative", "scale": {"domain": [1950, 2014.2], "nice": false, "zero": false}, "axis": {"values": [1950,1960,1970,1980,1990,2000,2010], "title": null}},
    "y": {"field": "v", "type": "quantitative", "scale": {"type": "log", "domain": [75, 800], "nice": false}, "axis": {"values": [75,100,200,300,400,500,600,700,800], "title": "Index, 1950=100 (log scale)"}},
    "color": {"field": "s", "type": "nominal", "scale": {"domain": ["LP","RE"], "range": ["#1F3864","#5B9BD5"]}, "legend": null}}},
  {"data": {"name": "notes"}, "transform": [{"filter": "datum.c === 'US' && datum.s === 'LP'"}], "mark": {"type": "text", "fontSize": 11.5, "color": "#44546A", "align": "center", "baseline": "middle"}, "encoding": {"x": {"field": "y", "type": "quantitative"}, "y": {"field": "v", "type": "quantitative"}, "text": {"field": "t"}}},
  {"data": {"name": "notes"}, "transform": [{"filter": "datum.c === 'US' && datum.s === 'RE'"}], "mark": {"type": "text", "fontSize": 11.5, "color": "#5B9BD5", "align": "center", "baseline": "middle", "lineBreak": "\n", "lineHeight": 14.5}, "encoding": {"x": {"field": "y", "type": "quantitative"}, "y": {"field": "v", "type": "quantitative"}, "text": {"field": "t"}}}
 ]},
 {"title": {"text": "United Kingdom"}, "width": 342, "height": 225.6, "layer": [
  {"data": {"name": "pts"}, "transform": [{"filter": "datum.c === 'UK'"}], "mark": {"type": "line", "strokeWidth": 1.5, "point": {"shape": "square", "size": 9, "filled": true, "opacity": 1}},
   "encoding": {"x": {"field": "y", "type": "quantitative", "scale": {"domain": [1950, 2013.8], "nice": false, "zero": false}, "axis": {"values": [1950,1960,1970,1980,1990,2000,2010], "title": null}},
    "y": {"field": "v", "type": "quantitative", "scale": {"type": "log", "domain": [75, 800], "nice": false}, "axis": {"values": [75,100,200,300,400,500,600,700,800], "title": "Index, 1950=100 (log scale)"}},
    "color": {"field": "s", "type": "nominal", "scale": {"domain": ["LP","RE"], "range": ["#1F3864","#5B9BD5"]}, "legend": null}}},
  {"data": {"name": "notes"}, "transform": [{"filter": "datum.c === 'UK' && datum.s === 'LP'"}], "mark": {"type": "text", "fontSize": 11.5, "color": "#44546A", "align": "center", "baseline": "middle"}, "encoding": {"x": {"field": "y", "type": "quantitative"}, "y": {"field": "v", "type": "quantitative"}, "text": {"field": "t"}}},
  {"data": {"name": "notes"}, "transform": [{"filter": "datum.c === 'UK' && datum.s === 'RE'"}], "mark": {"type": "text", "fontSize": 11.5, "color": "#5B9BD5", "align": "center", "baseline": "middle", "lineBreak": "\n", "lineHeight": 14.5}, "encoding": {"x": {"field": "y", "type": "quantitative"}, "y": {"field": "v", "type": "quantitative"}, "text": {"field": "t"}}}
 ]},
 {"title": {"text": "France"}, "width": 345, "height": 225.6, "layer": [
  {"data": {"name": "pts"}, "transform": [{"filter": "datum.c === 'FR'"}], "mark": {"type": "line", "strokeWidth": 1.5, "point": {"shape": "square", "size": 9, "filled": true, "opacity": 1}},
   "encoding": {"x": {"field": "y", "type": "quantitative", "scale": {"domain": [1950, 2013.6], "nice": false, "zero": false}, "axis": {"values": [1950,1960,1970,1980,1990,2000,2010], "title": null}},
    "y": {"field": "v", "type": "quantitative", "scale": {"type": "log", "domain": [75, 800], "nice": false}, "axis": {"values": [75,100,200,300,400,500,600,700,800], "title": "Index, 1950=100 (log scale)"}},
    "color": {"field": "s", "type": "nominal", "scale": {"domain": ["LP","RE"], "range": ["#1F3864","#5B9BD5"]}, "legend": null}}},
  {"data": {"name": "notes"}, "transform": [{"filter": "datum.c === 'FR' && datum.s === 'LP'"}], "mark": {"type": "text", "fontSize": 11.5, "color": "#44546A", "align": "center", "baseline": "middle"}, "encoding": {"x": {"field": "y", "type": "quantitative"}, "y": {"field": "v", "type": "quantitative"}, "text": {"field": "t"}}},
  {"data": {"name": "notes"}, "transform": [{"filter": "datum.c === 'FR' && datum.s === 'RE'"}], "mark": {"type": "text", "fontSize": 11.5, "color": "#5B9BD5", "align": "center", "baseline": "middle", "lineBreak": "\n", "lineHeight": 14.5}, "encoding": {"x": {"field": "y", "type": "quantitative"}, "y": {"field": "v", "type": "quantitative"}, "text": {"field": "t"}}}
 ]},
 {"title": {"text": "Ireland"}, "width": 350, "height": 225.6, "layer": [
  {"data": {"name": "pts"}, "transform": [{"filter": "datum.c === 'IE'"}], "mark": {"type": "line", "strokeWidth": 1.5, "point": {"shape": "square", "size": 9, "filled": true, "opacity": 1}},
   "encoding": {"x": {"field": "y", "type": "quantitative", "scale": {"domain": [1950, 2014.2], "nice": false, "zero": false}, "axis": {"values": [1950,1960,1970,1980,1990,2000,2010], "title": null}},
    "y": {"field": "v", "type": "quantitative", "scale": {"type": "log", "domain": [75, 1300], "nice": false}, "axis": {"values": [75,100,200,400,600,800,1000,1300], "title": "Index, 1950=100 (log scale)"}},
    "color": {"field": "s", "type": "nominal", "scale": {"domain": ["LP","RE"], "range": ["#1F3864","#5B9BD5"]}, "legend": null}}},
  {"data": {"name": "notes"}, "transform": [{"filter": "datum.c === 'IE' && datum.s === 'LP'"}], "mark": {"type": "text", "fontSize": 11.5, "color": "#44546A", "align": "center", "baseline": "middle"}, "encoding": {"x": {"field": "y", "type": "quantitative"}, "y": {"field": "v", "type": "quantitative"}, "text": {"field": "t"}}},
  {"data": {"name": "notes"}, "transform": [{"filter": "datum.c === 'IE' && datum.s === 'RE'"}], "mark": {"type": "text", "fontSize": 11.5, "color": "#5B9BD5", "align": "center", "baseline": "middle", "lineBreak": "\n", "lineHeight": 14.5}, "encoding": {"x": {"field": "y", "type": "quantitative"}, "y": {"field": "v", "type": "quantitative"}, "text": {"field": "t"}}}
 ]},
 {"title": {"text": "Canada"}, "width": 349, "height": 225.6, "layer": [
  {"data": {"name": "pts"}, "transform": [{"filter": "datum.c === 'CA'"}], "mark": {"type": "line", "strokeWidth": 1.5, "point": {"shape": "square", "size": 9, "filled": true, "opacity": 1}},
   "encoding": {"x": {"field": "y", "type": "quantitative", "scale": {"domain": [1950, 2013.95], "nice": false, "zero": false}, "axis": {"values": [1950,1960,1970,1980,1990,2000,2010], "title": null}},
    "y": {"field": "v", "type": "quantitative", "scale": {"type": "log", "domain": [75, 800], "nice": false}, "axis": {"values": [75,100,200,300,400,500,600,700,800], "title": "Index, 1950=100 (log scale)"}},
    "color": {"field": "s", "type": "nominal", "scale": {"domain": ["LP","RE"], "range": ["#1F3864","#5B9BD5"]}, "legend": null}}},
  {"data": {"name": "notes"}, "transform": [{"filter": "datum.c === 'CA' && datum.s === 'LP'"}], "mark": {"type": "text", "fontSize": 11.5, "color": "#44546A", "align": "center", "baseline": "middle"}, "encoding": {"x": {"field": "y", "type": "quantitative"}, "y": {"field": "v", "type": "quantitative"}, "text": {"field": "t"}}},
  {"data": {"name": "notes"}, "transform": [{"filter": "datum.c === 'CA' && datum.s === 'RE'"}], "mark": {"type": "text", "fontSize": 11.5, "color": "#5B9BD5", "align": "center", "baseline": "middle", "lineBreak": "\n", "lineHeight": 14.5}, "encoding": {"x": {"field": "y", "type": "quantitative"}, "y": {"field": "v", "type": "quantitative"}, "text": {"field": "t"}}}
 ]},
 {"title": {"text": "Australia"}, "width": 344, "height": 225.6, "view": {"stroke": null}, "resolve": {"axis": {"x": "independent"}}, "layer": [
  {"data": {"name": "pts"}, "transform": [{"filter": "datum.c === 'AU'"}], "mark": {"type": "line", "strokeWidth": 1.5, "point": {"shape": "square", "size": 9, "filled": true, "opacity": 1}},
   "encoding": {"x": {"field": "y", "type": "quantitative", "scale": {"domain": [1950, 2013.1], "nice": false, "zero": false}, "axis": {"values": [1950,1960,1970,1980,1990,2000,2010], "title": null, "domain": true}},
    "y": {"field": "v", "type": "quantitative", "scale": {"type": "log", "domain": [75, 800], "nice": false}, "axis": {"values": [75,100,200,300,400,500,600,700,800], "title": "Index, 1950=100 (log scale)", "domain": true}},
    "color": {"field": "s", "type": "nominal", "scale": {"domain": ["LP","RE"], "range": ["#1F3864","#5B9BD5"]}, "legend": null}}},
  {"data": {"name": "notes"}, "transform": [{"filter": "datum.c === 'AU' && datum.s === 'LP'"}], "mark": {"type": "text", "fontSize": 11.5, "color": "#44546A", "align": "center", "baseline": "middle"}, "encoding": {"x": {"field": "y", "type": "quantitative", "axis": {"orient": "top", "labels": false, "ticks": false, "domain": true, "title": null, "grid": false}}, "y": {"field": "v", "type": "quantitative"}, "text": {"field": "t"}}},
  {"data": {"name": "notes"}, "transform": [{"filter": "datum.c === 'AU' && datum.s === 'RE'"}], "mark": {"type": "text", "fontSize": 11.5, "color": "#5B9BD5", "align": "center", "baseline": "middle", "lineBreak": "\n", "lineHeight": 14.5}, "encoding": {"x": {"field": "y", "type": "quantitative", "axis": null}, "y": {"field": "v", "type": "quantitative"}, "text": {"field": "t"}}}
 ]}
]
}
